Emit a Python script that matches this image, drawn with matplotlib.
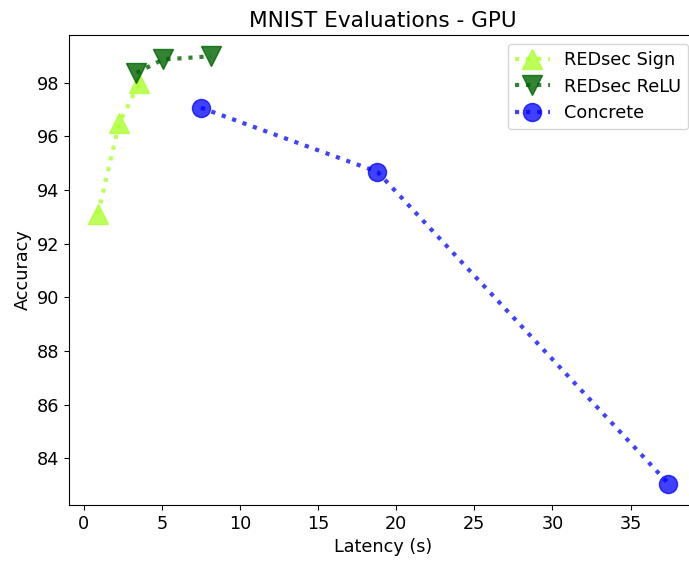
import matplotlib
matplotlib.use("Agg")
import matplotlib.pyplot as plt

# Latency (s) vs accuracy (%)
sign_latency = [0.91, 2.28, 3.55]
sign_acc = [93.1, 96.5, 97.98]

relu_latency = [3.38, 5.07, 8.15]
relu_acc = [98.37, 98.87, 98.99]

concrete_latency = [7.51, 18.8, 37.42]
concrete_acc = [97.07, 94.68, 83.05]

plt.rcParams['font.size'] = 12.7

fig, ax = plt.subplots(figsize=(6.89, 5.63), dpi=100)

ax.plot(sign_latency, sign_acc, linestyle=':', linewidth=3, marker='^', markersize=14,
        color='greenyellow', alpha=0.8, label='REDsec Sign')
ax.plot(relu_latency, relu_acc, linestyle=':', linewidth=3, marker='v', markersize=14,
        color='darkgreen', alpha=0.8, label='REDsec ReLU')
ax.plot(concrete_latency, concrete_acc, linestyle=':', linewidth=3, marker='o', markersize=13,
        color='blue', alpha=0.75, label='Concrete')

ax.set_title('MNIST Evaluations - GPU', fontsize=15.6, pad=6)
ax.set_xlabel('Latency (s)')
ax.set_ylabel('Accuracy')
ax.legend(loc='upper right')

# the original figure is cropped on the right, so the axes run past the edge
fig.subplots_adjust(left=0.1006, right=1.0116, top=0.938, bottom=0.103)
fig.savefig('out.png')
